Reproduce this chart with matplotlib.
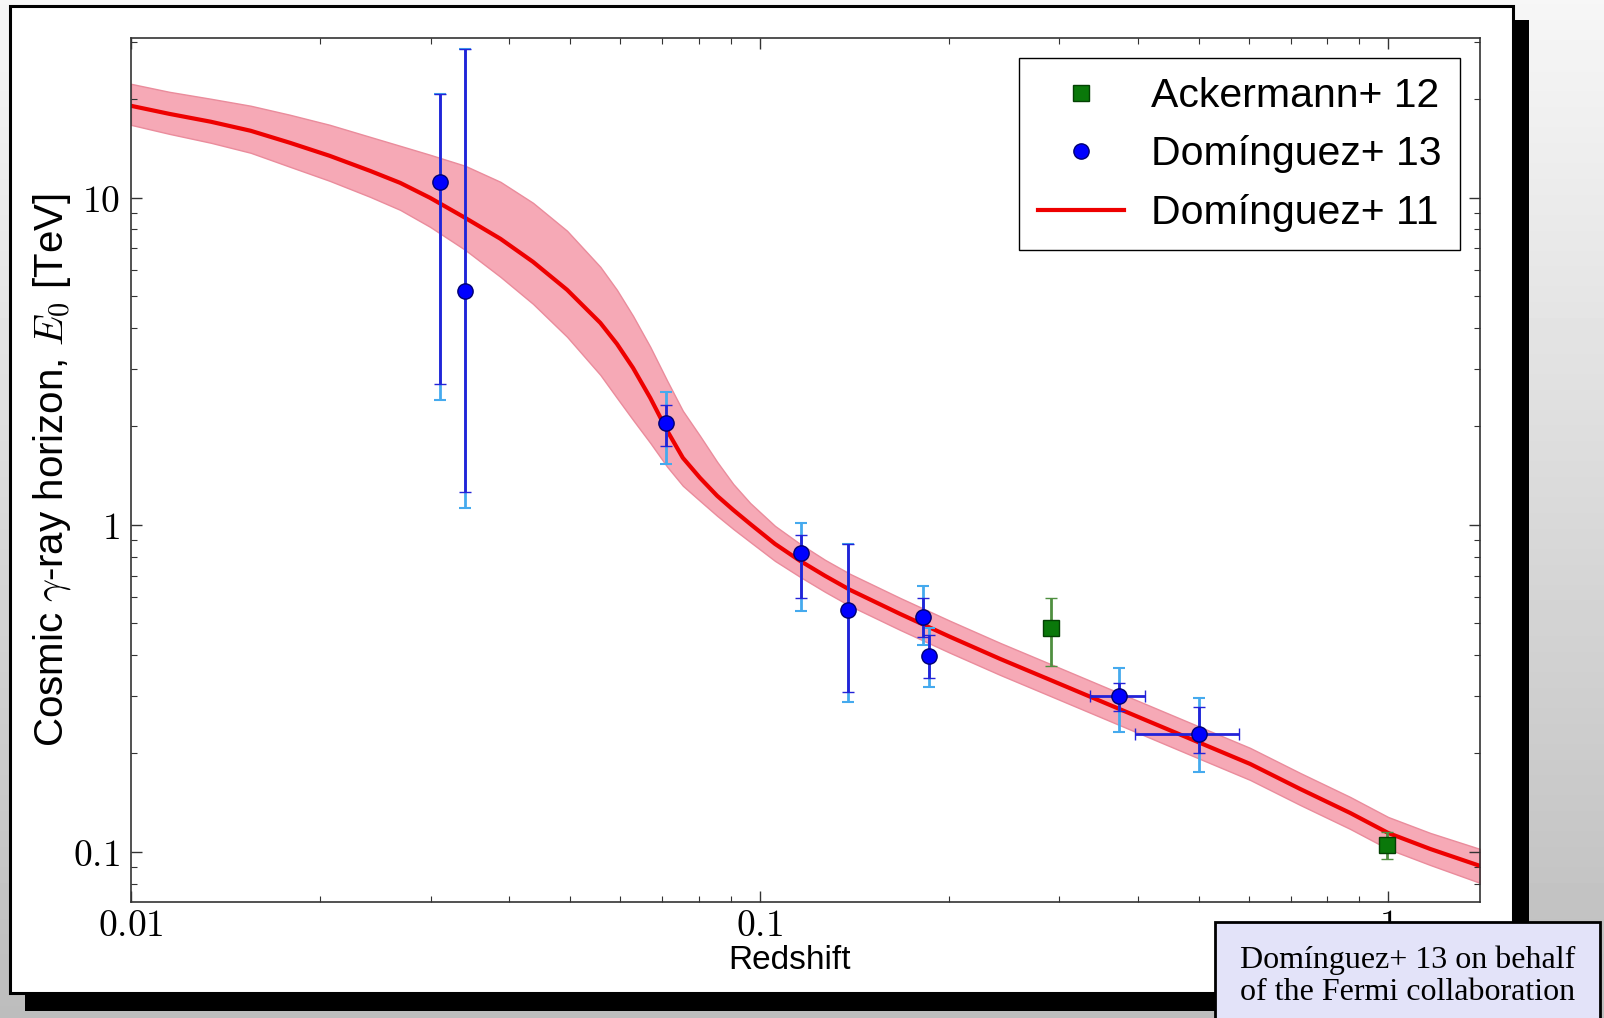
import numpy as np
import matplotlib.pyplot as plt
from matplotlib.patches import Rectangle
from matplotlib.lines import Line2D
from matplotlib.ticker import FuncFormatter

plt.rcParams['mathtext.fontset'] = 'cm'
plt.rcParams['font.family'] = ['Liberation Sans', 'DejaVu Sans']

# Dominguez+ 11 EBL model: cosmic gamma-ray horizon and its uncertainty band
model_z = [0.0100, 0.0115, 0.0134, 0.0155, 0.0179, 0.0207, 0.0240, 0.0268, 0.0299,
           0.0340, 0.0387, 0.0436, 0.0494, 0.0558, 0.0593, 0.0629, 0.0670, 0.0713,
           0.0755, 0.0804, 0.0856, 0.0908, 0.0966, 0.1058, 0.1160, 0.1271, 0.1393,
           0.1673, 0.2010, 0.2414, 0.2899, 0.3482, 0.4182, 0.5022, 0.6032, 0.7244,
           0.8700, 1.000, 1.167, 1.401]
model_e0 = [19.11, 18.06, 17.08, 16.03, 14.73, 13.44, 12.09, 11.11, 10.00,
            8.687, 7.493, 6.372, 5.233, 4.146, 3.576, 3.020, 2.445, 1.939,
            1.603, 1.392, 1.227, 1.111, 1.007, 0.8747, 0.7762, 0.6985, 0.6327,
            0.5343, 0.4545, 0.3892, 0.3358, 0.2896, 0.2497, 0.2154, 0.1858, 0.1558,
            0.1316, 0.1143, 0.1021, 0.0906]
model_hi = [22.31, 21.09, 20.08, 19.12, 17.94, 16.72, 15.36, 14.42, 13.54,
            12.53, 11.19, 9.655, 7.929, 6.151, 5.231, 4.356, 3.502, 2.757,
            2.232, 1.871, 1.559, 1.334, 1.167, 0.9930, 0.8749, 0.7818, 0.7082,
            0.5980, 0.5087, 0.4356, 0.3759, 0.3241, 0.2795, 0.2411, 0.2080, 0.1744,
            0.1473, 0.1279, 0.1143, 0.1021]
model_lo = [16.71, 15.69, 14.73, 13.73, 12.44, 11.27, 10.07, 9.187, 8.153,
            6.934, 5.733, 4.741, 3.759, 2.875, 2.445, 2.094, 1.781, 1.505,
            1.317, 1.184, 1.066, 0.9718, 0.8870, 0.7761, 0.6935, 0.6241, 0.5653,
            0.4774, 0.4061, 0.3477, 0.3000, 0.2587, 0.2231, 0.1924, 0.1660, 0.1392,
            0.1176, 0.1021, 0.0912, 0.0804]

# Dominguez+ 13 measurements (stat. and stat.+sys. errors)
d13_z = [0.031, 0.034, 0.071, 0.1163, 0.1384, 0.1823, 0.1863, 0.373, 0.501]
d13_e0 = [11.2, 5.2, 2.05, 0.819, 0.55, 0.522, 0.398, 0.300, 0.2296]
d13_stat_hi = [20.8, 28.6, 2.33, 0.932, 0.873, 0.597, 0.46, 0.328, 0.278]
d13_stat_lo = [2.69, 1.26, 1.74, 0.597, 0.309, 0.455, 0.34, 0.269, 0.2004]
d13_sys_hi = [20.8, 28.6, 2.54, 1.01, 0.873, 0.651, 0.483, 0.365, 0.295]
d13_sys_lo = [2.41, 1.13, 1.53, 0.546, 0.287, 0.43, 0.319, 0.233, 0.176]
d13_z_lo = [0.031, 0.034, 0.071, 0.1163, 0.1384, 0.1823, 0.1863, 0.335, 0.396]
d13_z_hi = [0.031, 0.034, 0.071, 0.1163, 0.1384, 0.1823, 0.1863, 0.4106, 0.580]

# Ackermann+ 12 measurements
a12_z = [0.2906, 0.9955]
a12_e0 = [0.483, 0.105]
a12_hi = [0.597, 0.115]
a12_lo = [0.369, 0.095]

W, H = 1604, 1018
fig = plt.figure(figsize=(W / 100, H / 100), dpi=100)

# slide background, shadow and white frame
bg = fig.add_axes([0, 0, 1, 1], zorder=-5)
grad = np.linspace(0.965, 0.74, 256).reshape(-1, 1)
bg.imshow(grad, aspect='auto', cmap='gray', vmin=0, vmax=1, extent=[0, 1, 0, 1])
bg.axis('off')


def rect(x0, y0, x1, y1, **kw):
    return Rectangle((x0 / W, 1 - y1 / H), (x1 - x0) / W, (y1 - y0) / H,
                     transform=fig.transFigure, **kw)


fig.add_artist(rect(25, 20, 1529, 1011, facecolor='black', edgecolor='none', zorder=-3))
fig.add_artist(rect(10, 6, 1513, 993, facecolor='white', edgecolor='black',
                    linewidth=2.2, zorder=-2))

ax = fig.add_axes([131 / W, 1 - 902 / H, (1480 - 131) / W, (902 - 38) / H], zorder=1)
ax.set_xscale('log')
ax.set_yscale('log')

ax.fill_between(model_z, model_lo, model_hi, facecolor='#f6a9b6', edgecolor='#ea8c9c',
                linewidth=1, zorder=1)
ax.plot(model_z, model_e0, color='#ee0000', lw=3, zorder=2)

e0 = np.array(d13_e0)
z = np.array(d13_z)
sys_err = [e0 - np.array(d13_sys_lo), np.array(d13_sys_hi) - e0]
stat_err = [e0 - np.array(d13_stat_lo), np.array(d13_stat_hi) - e0]
z_err = [z - np.array(d13_z_lo), np.array(d13_z_hi) - z]
ax.errorbar(z, e0, yerr=sys_err, fmt='none', ecolor='#45aaee', elinewidth=2,
            capsize=4, capthick=1.5, zorder=3)
ax.errorbar(z, e0, yerr=stat_err, xerr=z_err, fmt='o', color='blue', ms=11,
            mec='#000070', mew=1, ecolor='#2323d8', elinewidth=2, capsize=4,
            capthick=1.5, zorder=4)

ae0 = np.array(a12_e0)
a_err = [ae0 - np.array(a12_lo), np.array(a12_hi) - ae0]
ax.errorbar(a12_z, ae0, yerr=a_err, fmt='s', color='#0a780a', ms=11, mec='#034003',
            mew=1, ecolor='#4f8f40', elinewidth=2, capsize=4, capthick=1.5, zorder=4)

ax.set_xlim(0.01, 1.4)
ax.set_ylim(0.0703, 30.8)

fmt = FuncFormatter(lambda v, p: '$%g$' % v)
ax.xaxis.set_major_formatter(fmt)
ax.yaxis.set_major_formatter(fmt)
ax.tick_params(which='both', direction='in', top=True, right=True, color='#333333')
ax.tick_params(which='major', length=8, width=1, labelsize=27)
ax.tick_params(which='minor', length=4, width=0.8)
ax.tick_params(axis='x', pad=4)
ax.tick_params(axis='y', pad=8)
for s in ax.spines.values():
    s.set_color('#333333')
    s.set_linewidth(1.2)

ax.set_xlabel('Redshift', fontsize=24)
ax.xaxis.set_label_coords(0.488, -0.05)
ax.set_ylabel(r'Cosmic $\gamma$-ray horizon, $E_0$ [TeV]', fontsize=29, labelpad=0)

handles = [
    Line2D([], [], ls='none', marker='s', color='#0a780a', mec='#034003', ms=11),
    Line2D([], [], ls='none', marker='o', color='blue', mec='#000070', ms=11),
    Line2D([], [], color='#ee0000', lw=3),
]
labels = ['Ackermann+ 12', 'Domínguez+ 13', 'Domínguez+ 11']
leg = ax.legend(handles, labels, loc='upper right', fontsize=29.5, frameon=True,
                fancybox=False, edgecolor='black', framealpha=1, borderaxespad=0.5,
                handlelength=2.1, handletextpad=0.65, labelspacing=0.5,
                borderpad=0.45)
leg.get_frame().set_linewidth(1)

# credit box in the lower right corner
fig.add_artist(rect(1215, 922, 1600, 1030, facecolor='#e3e3f9', edgecolor='black',
                    linewidth=2, zorder=5))
fig.text((1215 + 1600) / 2 / W, 1 - 976 / H,
         'Domínguez+ 13 on behalf\nof the Fermi collaboration',
         family=['Liberation Serif', 'DejaVu Serif'], fontsize=23, ha='center',
         va='center', linespacing=1.15, zorder=6)

fig.savefig('out.png', dpi=100)
